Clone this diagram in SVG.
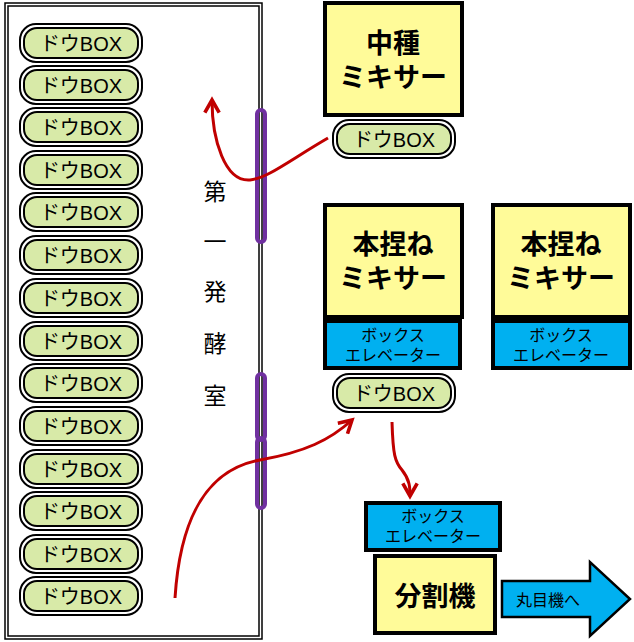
<svg xmlns="http://www.w3.org/2000/svg" width="634" height="642" viewBox="0 0 634 642">
<style>
text{font-family:"Liberation Sans","Noto Sans CJK JP",sans-serif;text-anchor:middle}
.db rect.o{fill:#fff;stroke:#000;stroke-width:2}
.db rect.i{fill:#d8eaa8;stroke:#000;stroke-width:2}
.db text{font-size:20px}
.mx{fill:#fffb99;stroke:#000;stroke-width:4}
.el{fill:#00b0f0;stroke:#000;stroke-width:4}
.mt{font-size:27px;font-weight:bold}
.et{font-size:16px}
.red{fill:none;stroke:#c00000;stroke-width:3}
.pu{fill:none;stroke:#7030a0;stroke-width:4}
</style>
<defs>
<marker id="ah" viewBox="0 0 10 10" refX="8" refY="5" markerWidth="6" markerHeight="6" orient="auto"><path d="M1,1 L8,5 L1,9" fill="none" stroke="#c00000" stroke-width="2"/></marker>
<g id="dbox" class="db"><rect class="o" x="0" y="0" width="122" height="38" rx="16"/><rect class="i" x="4" y="4" width="114" height="30" rx="13"/><text x="61" y="26.5">ドウBOX</text></g>
</defs>
<g id="room">
<rect x="5" y="3" width="257" height="636" fill="none" stroke="#000" stroke-width="1.5"/>
<rect x="8" y="6" width="251" height="630" fill="none" stroke="#000" stroke-width="1.5"/>
<g font-size="23"><text x="215" y="200">第</text><text x="215" y="250">一</text><text x="215" y="300">発</text><text x="215" y="352">酵</text><text x="215" y="404">室</text></g>
</g>
<g id="boxes">
<use href="#dbox" x="20" y="24"/><use href="#dbox" x="20" y="66"/><use href="#dbox" x="20" y="108"/><use href="#dbox" x="20" y="151"/>
<use href="#dbox" x="20" y="193"/><use href="#dbox" x="20" y="236"/><use href="#dbox" x="20" y="279"/><use href="#dbox" x="20" y="322"/>
<use href="#dbox" x="20" y="364"/><use href="#dbox" x="20" y="407"/><use href="#dbox" x="20" y="450"/><use href="#dbox" x="20" y="492"/>
<use href="#dbox" x="20" y="535"/><use href="#dbox" x="20" y="577"/>
</g>
<g id="doors">
<rect class="pu" x="257" y="110" width="8" height="132" rx="4"/>
<rect class="pu" x="257" y="374" width="8" height="66" rx="4"/>
<rect class="pu" x="257" y="438" width="8" height="70" rx="4"/>
</g>
<g id="mixer1"><rect class="mx" x="325" y="3" width="137" height="112"/><text class="mt" x="393" y="53">中種</text><text class="mt" x="393" y="87">ミキサー</text></g>
<use id="box-mixer1" href="#dbox" x="333" y="120"/>
<g id="mixer2"><rect class="mx" x="325" y="205" width="137" height="112"/><text class="mt" x="393" y="254">本捏ね</text><text class="mt" x="393" y="288">ミキサー</text></g>
<g id="elev2"><rect class="el" x="325" y="321" width="135" height="47"/><text class="et" x="393" y="341">ボックス</text><text class="et" x="393" y="361">エレベーター</text></g>
<use id="box-mixer2" href="#dbox" x="333" y="374"/>
<g id="mixer3"><rect class="mx" x="493" y="205" width="137" height="112"/><text class="mt" x="561" y="254">本捏ね</text><text class="mt" x="561" y="288">ミキサー</text></g>
<g id="elev3"><rect class="el" x="493" y="321" width="137" height="47"/><text class="et" x="561" y="341">ボックス</text><text class="et" x="561" y="361">エレベーター</text></g>
<g id="elev4"><rect class="el" x="366" y="503" width="134" height="47"/><text class="et" x="433" y="522">ボックス</text><text class="et" x="433" y="542">エレベーター</text></g>
<g id="divider"><rect class="mx" x="375" y="556" width="120" height="77"/><text class="mt" x="435" y="606">分割機</text></g>
<g id="out"><path d="M502,581 L590,581 L590,562 L630,599 L590,636 L590,617 L502,617 Z" fill="#00b0f0" stroke="#000" stroke-width="2.5"/><text x="548" y="606" font-size="16">丸目機へ</text></g>
<g id="connectors">
<path class="red" d="M328,138 C290,160 268,178 250,180 C225,182 212,140 212,100" marker-end="url(#ah)"/>
<path class="red" d="M175,598 C180,520 205,470 260,460 C305,452 330,440 352,420" marker-end="url(#ah)"/>
<path class="red" d="M392,422 C393,455 395,462 402,470 C410,480 410,488 410,496" marker-end="url(#ah)"/>
</g>
</svg>
